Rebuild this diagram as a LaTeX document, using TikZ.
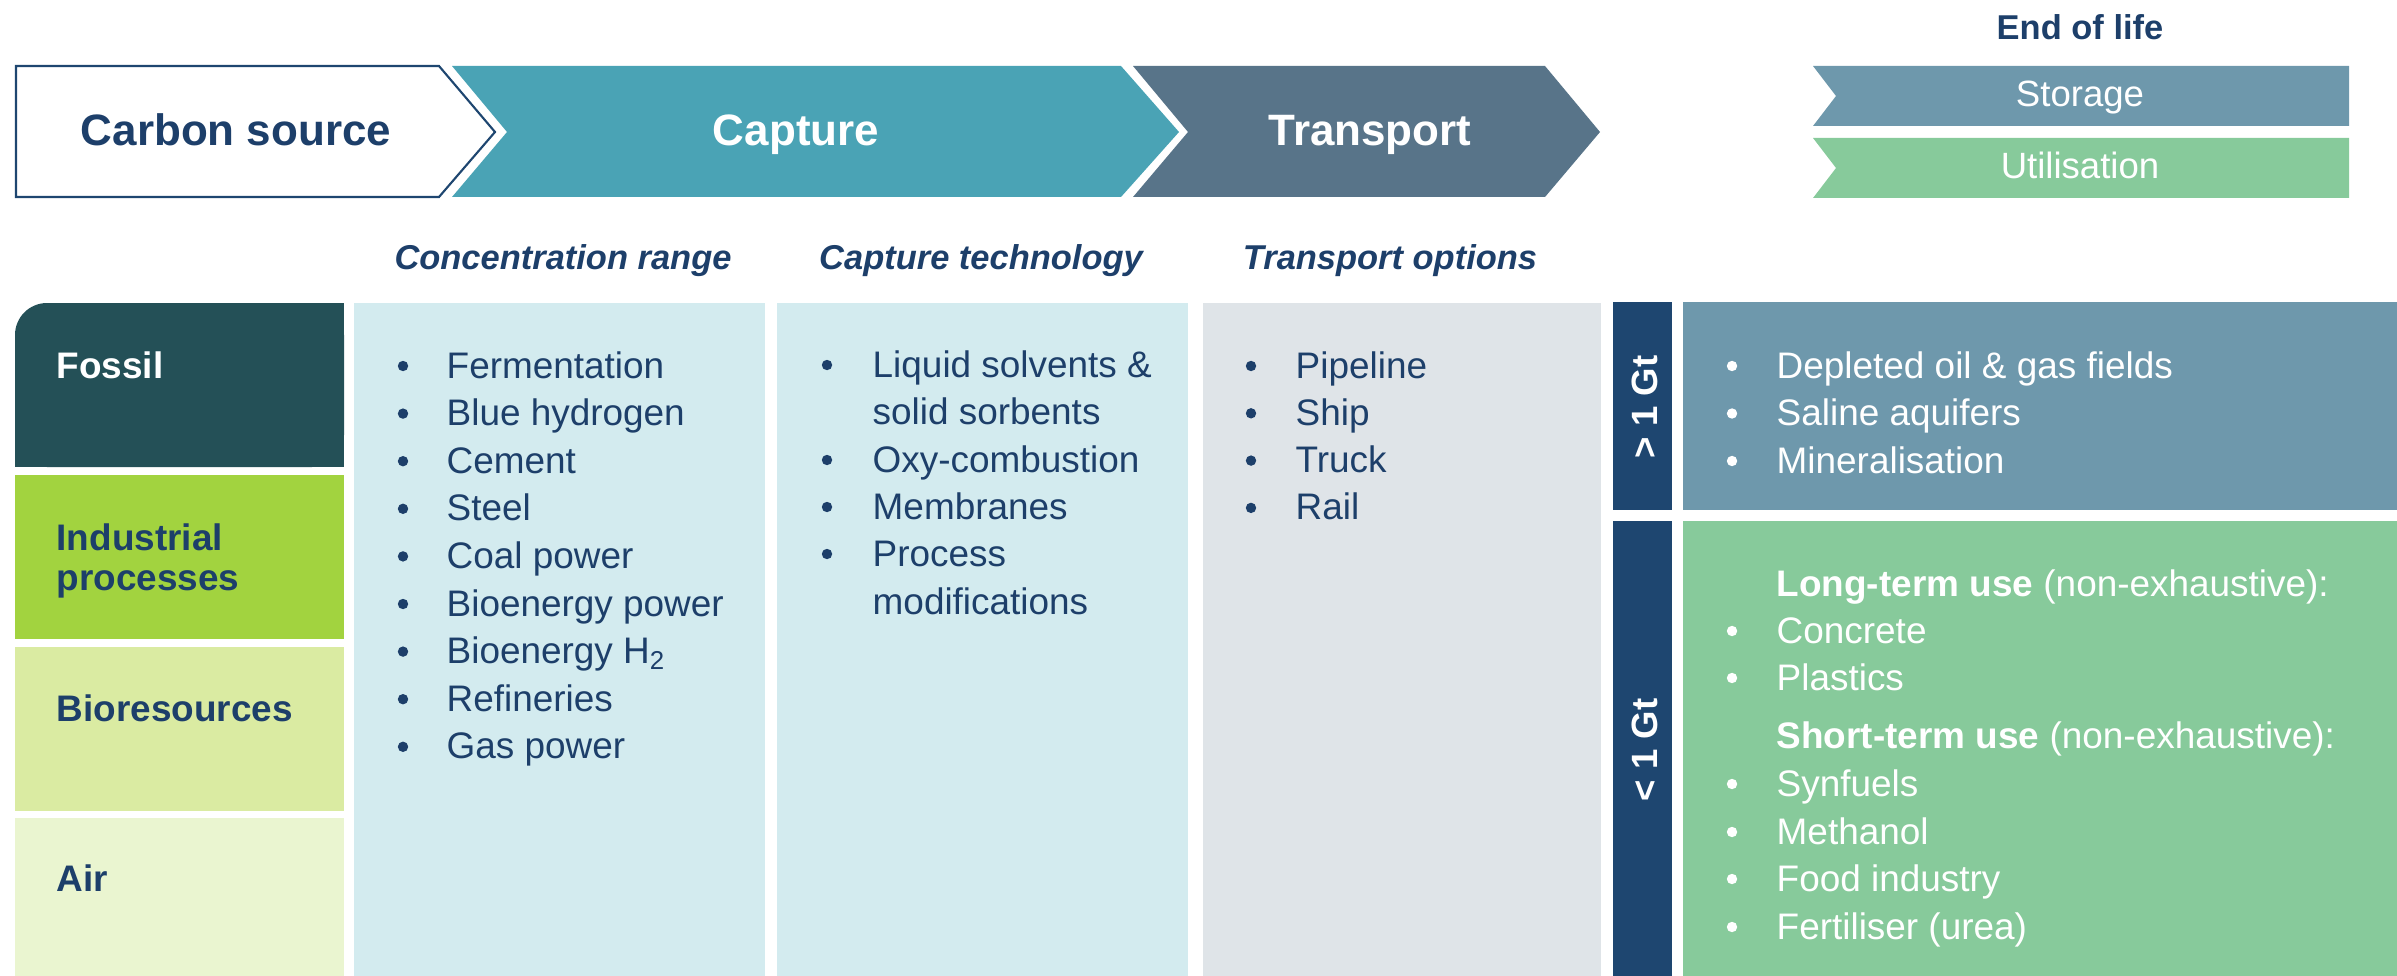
\documentclass[tikz,border=0pt]{standalone}
\usepackage{fontspec}
\setmainfont{Liberation Sans}
\definecolor{navy}{HTML}{1D3F6A}
\definecolor{navybar}{HTML}{1E4670}
\definecolor{capt}{HTML}{4AA3B5}
\definecolor{trans}{HTML}{587489}
\definecolor{stor}{HTML}{6E98AC}
\definecolor{util}{HTML}{87CA9B}
\definecolor{fossil}{HTML}{245057}
\definecolor{indus}{HTML}{A2D33F}
\definecolor{bio}{HTML}{DAEBA2}
\definecolor{air}{HTML}{EAF5D0}
\definecolor{colA}{HTML}{D3EBEF}
\definecolor{colT}{HTML}{DFE4E8}
\begin{document}
\begin{tikzpicture}[x=0.01cm,y=-0.01cm,
  head/.style={font=\fontsize{12.5pt}{15pt}\selectfont\bfseries, anchor=base, inner sep=0pt},
  eol/.style={font=\fontsize{9.8pt}{12pt}\selectfont\bfseries, text=navy, anchor=base, inner sep=0pt},
  tab/.style={font=\fontsize{10.4pt}{12pt}\selectfont, text=white, anchor=base, inner sep=0pt},
  sub/.style={font=\fontsize{9.8pt}{12pt}\selectfont\bfseries\itshape, text=navy, anchor=base, inner sep=0pt},
  src/.style={font=\fontsize{10.5pt}{12pt}\selectfont\bfseries, anchor=base west, inner sep=0pt},
  item/.style={font=\fontsize{10.5pt}{12pt}\selectfont, text=navy, anchor=base west, inner sep=0pt},
  witem/.style={item, text=white},
  gt/.style={font=\fontsize{10.4pt}{12pt}\selectfont\bfseries, text=white, rotate=90, text height=7.4pt, text depth=0pt, inner sep=0pt},
  dot/.style={fill=navy},
  wdot/.style={fill=white}
]
\useasboundingbox (0,0) rectangle (2397,976);

% ---- process arrows ----
\draw[navybar, line width=0.6pt, fill=white] (16,66) -- (439,66) -- (495,132) -- (439,197) -- (16,197) -- cycle;
\fill[capt] (452,66) -- (1121,66) -- (1179,132) -- (1121,197) -- (452,197) -- (507,132) -- cycle;
\fill[trans] (1133,66) -- (1545,66) -- (1600,132) -- (1545,197) -- (1133,197) -- (1188,132) -- cycle;
\fill[stor] (1813,66) -- (2349,66) -- (2349,126) -- (1813,126) -- (1836,96) -- cycle;
\fill[util] (1813,138) -- (2349,138) -- (2349,198) -- (1813,198) -- (1836,168) -- cycle;

\node[head, text=navy] (cs) at (236,146) {Carbon source};
\node[head, text=white] (cap) at (796,146) {Capture};
\node[head, text=white] (tra) at (1370,146) {Transport};
\node[eol] (eol) at (2080,40) {End of life};
\node[tab] (sto) at (2080,107) {Storage};
\node[tab] (uti) at (2080,179) {Utilisation};

\node[sub] (h1) at (563,269) {Concentration range};
\node[sub] (h2) at (981,269) {Capture technology};
\node[sub] (h3) at (1390,269) {Transport options};

% ---- left source boxes ----
\fill[fossil, rounded corners=0.32cm] (15,303) rectangle (344,467);
\fill[fossil] (15,345) rectangle (344,467);
\fill[fossil] (60,303) rectangle (344,467);
\fill[indus] (15,475) rectangle (344,639);
\fill[bio] (15,647) rectangle (344,811);
\fill[air] (15,818) rectangle (344,976);

\node[src, text=white] (fos) at (56,378) {Fossil};
\node[src, text=navy] (ind1) at (56,550) {Industrial};
\node[src, text=navy] (ind2) at (56,590) {processes};
\node[src, text=navy] (bior) at (56,721) {Bioresources};
\node[src, text=navy] (air) at (56,891) {Air};

% ---- columns ----
\fill[colA] (354,303) rectangle (765,976);
\fill[colA] (777,303) rectangle (1188,976);
\fill[colT] (1203,303) rectangle (1601,976);
\fill[navybar] (1613,302) rectangle (1672,510);
\fill[navybar] (1613,521) rectangle (1672,976);
\fill[stor] (1683,302) rectangle (2397,510);
\fill[util] (1683,521) rectangle (2397,976);

\node[gt] (gt1) at (1644,407) {> 1 Gt};
\node[gt] (gt2) at (1644,750) {< 1 Gt};

% concentration range list
\foreach \t [count=\i from 0] in {Fermentation, Blue hydrogen, Cement, Steel, Coal power, Bioenergy power, {Bioenergy H\textsubscript{2}}, Refineries, Gas power} {
  \pgfmathsetmacro\yy{365+47.6*\i}
  \fill[dot] (403,\yy+1) circle (0.052cm);
  \node[item] (conc\i) at (446,\yy+13) {\t};
}

% capture technology list
\fill[dot] (827,365) circle (0.052cm);
\node[item] (ct1) at (872,377) {Liquid solvents \&};
\node[item] (ct2) at (872,424) {solid sorbents};
\fill[dot] (827,460) circle (0.052cm);
\node[item] (ct3) at (872,472) {Oxy-combustion};
\fill[dot] (827,507) circle (0.052cm);
\node[item] (ct4) at (872,519) {Membranes};
\fill[dot] (827,554) circle (0.052cm);
\node[item] (ct5) at (872,566) {Process};
\node[item] (ct6) at (872,614) {modifications};

% transport list
\foreach \t [count=\i from 0] in {Pipeline, Ship, Truck, Rail} {
  \pgfmathsetmacro\yy{365+47.3*\i}
  \fill[dot] (1251,\yy+1) circle (0.052cm);
  \node[item] (tr\i) at (1295,\yy+13) {\t};
}

% storage list
\foreach \t [count=\i from 0] in {{Depleted oil \& gas fields}, Saline aquifers, Mineralisation} {
  \pgfmathsetmacro\yy{365+47.5*\i}
  \fill[wdot] (1732,\yy+1) circle (0.052cm);
  \node[witem] (st\i) at (1776,\yy+13) {\t};
}

% utilisation list
\node[witem] (lt) at (1776,596) {\textbf{Long-term use} (non-exhaustive):};
\fill[wdot] (1732,631) circle (0.052cm);
\node[witem] (u1) at (1776,643) {Concrete};
\fill[wdot] (1732,678) circle (0.052cm);
\node[witem] (u2) at (1776,690) {Plastics};
\node[witem] (shortt) at (1776,748) {\textbf{Short-term use} (non-exhaustive):};
\fill[wdot] (1732,784) circle (0.052cm);
\node[witem] (u3) at (1776,796) {Synfuels};
\fill[wdot] (1732,832) circle (0.052cm);
\node[witem] (u4) at (1776,844) {Methanol};
\fill[wdot] (1732,879) circle (0.052cm);
\node[witem] (u5) at (1776,891) {Food industry};
\fill[wdot] (1732,927) circle (0.052cm);
\node[witem] (u6) at (1776,939) {Fertiliser (urea)};
\end{tikzpicture}
\end{document}
